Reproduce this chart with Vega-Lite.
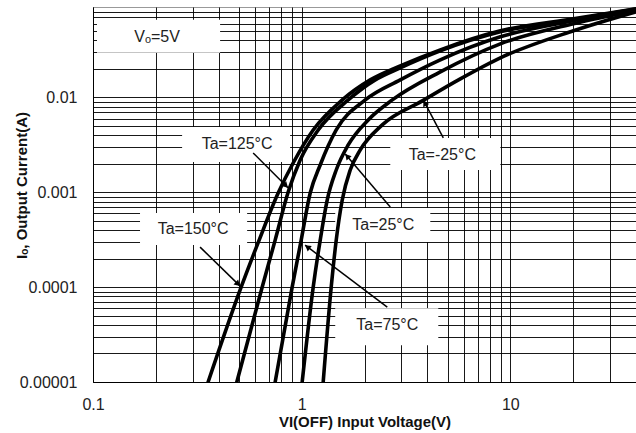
{
  "$schema": "https://vega.github.io/schema/vega-lite/v6.json",
  "width": 543,
  "height": 375,
  "autosize": {"type": "none"},
  "padding": {"left": 93, "top": 7, "right": 0, "bottom": 51},
  "background": "white",
  "config": {"view": {"stroke": "#999", "strokeWidth": 1}, "font": "Liberation Sans"},
  "datasets": {
    "curves": [
      {"s": "150", "v": 0.3561, "i": 0.00001}, {"s": "150", "v": 0.5127, "i": 0.0001}, {"s": "150", "v": 0.6254, "i": 0.0003135}, {"s": "150", "v": 0.7714, "i": 0.000983}, {"s": "150", "v": 0.9103, "i": 0.002039}, {"s": "150", "v": 1.1355, "i": 0.004548}, {"s": "150", "v": 1.5642, "i": 0.00943}, {"s": "150", "v": 2.1308, "i": 0.01534}, {"s": "150", "v": 2.9677, "i": 0.02157}, {"s": "150", "v": 4.616, "i": 0.03182}, {"s": "150", "v": 8.954, "i": 0.0505}, {"s": "150", "v": 20.05, "i": 0.06761}, {"s": "150", "v": 40, "i": 0.0862},
      {"s": "125", "v": 0.4889, "i": 0.00001}, {"s": "125", "v": 0.6465, "i": 0.0001}, {"s": "125", "v": 0.7463, "i": 0.0003135}, {"s": "125", "v": 0.8616, "i": 0.0010074}, {"s": "125", "v": 0.9836, "i": 0.002194}, {"s": "125", "v": 1.2, "i": 0.004548}, {"s": "125", "v": 1.6711, "i": 0.00943}, {"s": "125", "v": 2.2518, "i": 0.01534}, {"s": "125", "v": 2.9677, "i": 0.02055}, {"s": "125", "v": 4.616, "i": 0.03106}, {"s": "125", "v": 8.954, "i": 0.04928}, {"s": "125", "v": 20.05, "i": 0.06598}, {"s": "125", "v": 40, "i": 0.0855},
      {"s": "75", "v": 0.7463, "i": 0.00001}, {"s": "75", "v": 0.9003, "i": 0.0001}, {"s": "75", "v": 0.9945, "i": 0.0003135}, {"s": "75", "v": 1.0985, "i": 0.000983}, {"s": "75", "v": 1.2268, "i": 0.001943}, {"s": "75", "v": 1.464, "i": 0.004548}, {"s": "75", "v": 2.0167, "i": 0.00943}, {"s": "75", "v": 2.9677, "i": 0.01534}, {"s": "75", "v": 4.616, "i": 0.02494}, {"s": "75", "v": 8.954, "i": 0.04364}, {"s": "75", "v": 20.05, "i": 0.0644}, {"s": "75", "v": 40, "i": 0.0841},
      {"s": "25", "v": 1.0055, "i": 0.00001}, {"s": "25", "v": 1.1355, "i": 0.0001}, {"s": "25", "v": 1.2268, "i": 0.0003135}, {"s": "25", "v": 1.3252, "i": 0.0008293}, {"s": "25", "v": 1.464, "i": 0.00172}, {"s": "25", "v": 1.6711, "i": 0.003159}, {"s": "25", "v": 2.0842, "i": 0.005801}, {"s": "25", "v": 2.7177, "i": 0.00943}, {"s": "25", "v": 4.616, "i": 0.01864}, {"s": "25", "v": 8.954, "i": 0.03681}, {"s": "25", "v": 20.05, "i": 0.05988}, {"s": "25", "v": 40, "i": 0.0821},
      {"s": "-25", "v": 1.2679, "i": 0.00001}, {"s": "-25", "v": 1.3851, "i": 0.0001}, {"s": "-25", "v": 1.464, "i": 0.0003135}, {"s": "-25", "v": 1.5642, "i": 0.0008293}, {"s": "-25", "v": 1.7084, "i": 0.00172}, {"s": "-25", "v": 1.9085, "i": 0.002797}, {"s": "-25", "v": 2.433, "i": 0.00514}, {"s": "-25", "v": 3.7844, "i": 0.009207}, {"s": "-25", "v": 5.757, "i": 0.01572}, {"s": "-25", "v": 8.954, "i": 0.02619}, {"s": "-25", "v": 20.05, "i": 0.0505}, {"s": "-25", "v": 40, "i": 0.0801}
    ],
    "boxes": [
      {"v": 0.1045, "v2": 0.4065, "i": 0.0296, "i2": 0.066},
      {"v": 0.2673, "v2": 0.88, "i": 0.002089, "i2": 0.00489},
      {"v": 0.168, "v2": 0.5477, "i": 0.0002777, "i2": 0.0006045},
      {"v": 2.658, "v2": 8.954, "i": 0.001724, "i2": 0.003745},
      {"v": 1.448, "v2": 4.134, "i": 0.0002987, "i2": 0.000683},
      {"v": 1.448, "v2": 4.515, "i": 0.0000244, "i2": 0.00006}
    ],
    "arrows": [
      {"v": 0.5855, "i": 0.0026, "v2": 0.862, "i2": 0.00111},
      {"v": 0.326, "i": 0.0002645, "v2": 0.507, "i2": 0.0001025},
      {"v": 4.771, "i": 0.003745, "v2": 3.825, "i2": 0.00943},
      {"v": 2.658, "i": 0.000699, "v2": 1.617, "i2": 0.002537},
      {"v": 2.571, "i": 0.00006147, "v2": 1.039, "i2": 0.0002777}
    ],
    "labels": [
      {"t": "Vₒ=5V", "v": 0.2028, "i": 0.0436},
      {"t": "Ta=125°C", "v": 0.4905, "i": 0.003236},
      {"t": "Ta=150°C", "v": 0.3017, "i": 0.0004098},
      {"t": "Ta=-25°C", "v": 4.719, "i": 0.002476},
      {"t": "Ta=25°C", "v": 2.46, "i": 0.0004515},
      {"t": "Ta=75°C", "v": 2.571, "i": 0.0000397}
    ]
  },
  "encoding": {
    "x": {
      "field": "v", "type": "quantitative",
      "scale": {"type": "log", "domain": [0.1, 40], "nice": false},
      "axis": {
        "values": [0.1, 0.2, 0.3, 0.4, 0.5, 0.6, 0.7, 0.8, 0.9, 1, 2, 3, 4, 5, 6, 7, 8, 9, 10, 20, 30],
        "format": "~g",
        "labelExpr": "abs(log(datum.value)/LN10 - round(log(datum.value)/LN10)) < 0.01 ? datum.label : ''",
        "labelOverlap": false, "labelFlush": false,
        "grid": true, "gridColor": "#000", "gridWidth": 1, "gridOpacity": 0.9,
        "ticks": false, "domain": true, "domainColor": "#000",
        "labelFont": "Liberation Sans", "labelFontSize": 16, "labelColor": "#222", "labelPadding": 14,
        "title": "VI(OFF) Input Voltage(V)", "titleFont": "Liberation Sans", "titleFontSize": 15, "titleFontWeight": "bold", "titleColor": "#111", "titlePadding": 2
      }
    },
    "y": {
      "field": "i", "type": "quantitative",
      "scale": {"type": "log", "domain": [0.00001, 0.09], "nice": false},
      "axis": {
        "values": [0.00001, 0.00002, 0.00003, 0.00004, 0.00005, 0.00006, 0.00007, 0.00008, 0.00009, 0.0001, 0.0002, 0.0003, 0.0004, 0.0005, 0.0006, 0.0007, 0.0008, 0.0009, 0.001, 0.002, 0.003, 0.004, 0.005, 0.006, 0.007, 0.008, 0.009, 0.01, 0.02, 0.03, 0.04, 0.05, 0.06, 0.07, 0.08],
        "format": "~g",
        "labelExpr": "abs(log(datum.value)/LN10 - round(log(datum.value)/LN10)) < 0.01 ? datum.label : ''",
        "labelOverlap": false, "labelFlush": false,
        "grid": true, "gridColor": "#000", "gridWidth": 1, "gridOpacity": 0.9,
        "ticks": false, "domain": true, "domainColor": "#000",
        "labelFont": "Liberation Sans", "labelFontSize": 16, "labelColor": "#222", "labelPadding": 16,
        "title": "Iₒ, Output Current(A)", "titleFont": "Liberation Sans", "titleFontSize": 15, "titleFontWeight": "bold", "titleColor": "#111",
        "titleX": -72, "titleY": 178, "titleBaseline": "middle"
      }
    }
  },
  "layer": [
    {
      "data": {"name": "boxes"},
      "mark": {"type": "rect", "fill": "white", "stroke": null},
      "encoding": {"x2": {"field": "v2"}, "y2": {"field": "i2"}}
    },
    {
      "data": {"name": "curves"},
      "mark": {"type": "line", "color": "black", "strokeWidth": 3.6, "interpolate": "monotone", "strokeCap": "round", "clip": true},
      "encoding": {"detail": {"field": "s"}}
    },
    {
      "data": {"name": "arrows"},
      "mark": {"type": "rule", "color": "black", "strokeWidth": 1.5},
      "encoding": {"x2": {"field": "v2"}, "y2": {"field": "i2"}}
    },
    {"data": {"values": [{"v": 0.834, "i": 0.001194}]}, "mark": {"type": "point", "shape": "triangle", "filled": true, "color": "black", "size": 45, "angle": 135, "opacity": 1}},
    {"data": {"values": [{"v": 0.491, "i": 0.00010966}]}, "mark": {"type": "point", "shape": "triangle", "filled": true, "color": "black", "size": 45, "angle": 134, "opacity": 1}},
    {"data": {"values": [{"v": 3.911, "i": 0.00856}]}, "mark": {"type": "point", "shape": "triangle", "filled": true, "color": "black", "size": 45, "angle": 332, "opacity": 1}},
    {"data": {"values": [{"v": 1.664, "i": 0.002359}]}, "mark": {"type": "point", "shape": "triangle", "filled": true, "color": "black", "size": 45, "angle": 320, "opacity": 1}},
    {"data": {"values": [{"v": 1.0745, "i": 0.0002613}]}, "mark": {"type": "point", "shape": "triangle", "filled": true, "color": "black", "size": 45, "angle": 307, "opacity": 1}},
    {
      "data": {"name": "labels"},
      "mark": {"type": "text", "font": "Liberation Sans", "fontSize": 16, "color": "#222", "align": "center", "baseline": "middle"},
      "encoding": {"text": {"field": "t"}}
    }
  ]
}
